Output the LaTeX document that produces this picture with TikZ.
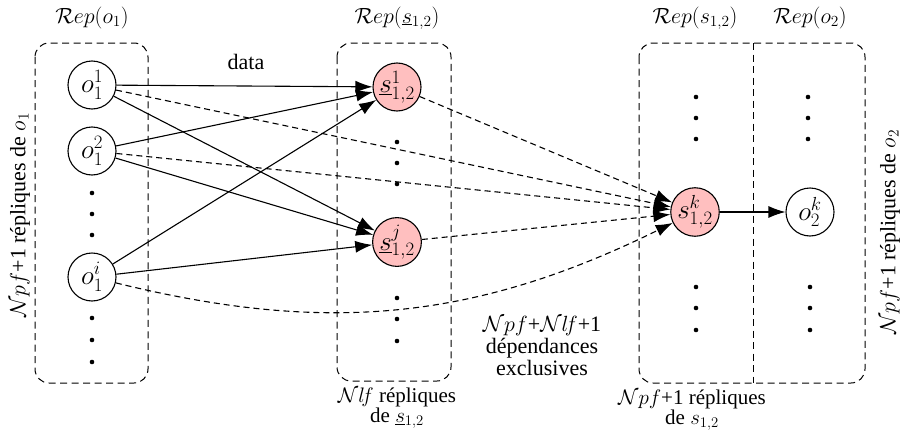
\RequirePackage{fix-cm}
\documentclass[tikz,border=0pt]{standalone}
\usepackage{fontspec}
\setmainfont{Liberation Serif}
\usetikzlibrary{arrows.meta}
\begin{document}
\begin{tikzpicture}[x=1pt,y=-1pt,
  font=\fontsize{22}{22}\selectfont,
  onode/.style={circle,draw,line width=1.1pt,minimum size=48pt,inner sep=0pt,font=\fontsize{27}{27}\selectfont},
  snode/.style={onode,fill=red!25},
  grp/.style={draw,dash pattern=on 7pt off 4.5pt,rounded corners=14pt,line width=1pt},
  arr/.style={-{Latex[length=17pt,width=12pt]},line width=1.1pt},
  darr/.style={arr,dash pattern=on 6pt off 4pt},
  lbl/.style={align=center,inner sep=0pt}]
\useasboundingbox (0,0) rectangle (902,439);
% groups
\draw[grp] (35,43) rectangle (148,383);
\draw[grp] (337,43) rectangle (451,381);
\draw[grp] (639,43) rectangle (865,383);
\draw[dash pattern=on 7pt off 4.5pt,line width=1pt] (753,43) -- (753,383);
% titles
\node[lbl] (t1) at (92,18) {$\mathcal{R}ep(o_1)$};
\node[lbl] (t2) at (397,18) {$\mathcal{R}ep(\underline{s}_{1,2})$};
\node[lbl] (t3) at (695,18) {$\mathcal{R}ep(s_{1,2})$};
\node[lbl] (t4) at (810,18) {$\mathcal{R}ep(o_2)$};
% nodes
\node[onode] (o11) at (92,85) {$o_1^1$};
\node[onode] (o12) at (92,151) {$o_1^2$};
\node[onode] (o1i) at (92,277) {$o_1^i$};
\node[snode] (s1) at (397,87) {$\underline{s}^1_{1,2}$};
\node[snode] (sj) at (397,242) {$\underline{s}^j_{1,2}$};
\node[snode] (sk) at (695,212) {$s^k_{1,2}$};
\node[onode] (o2k) at (810,212) {$o_2^k$};
% dots
\foreach \x/\y in {92/193,92/214,92/235,92/318,92/340,92/362,
                   397/142,397/163,397/184,397/298,397/319,397/341,
                   696/97,696/118,696/139,696/287,696/308,696/330,
                   808/97,808/118,808/139,810/287,810/308,810/330}
  \fill (\x,\y) circle (2.3pt);
% solid edges
\draw[arr] (o11) -- (s1);
\draw[arr] (o11) -- (sj);
\draw[arr] (o12) -- (s1);
\draw[arr] (o12) -- (sj);
\draw[arr] (o1i) -- (s1);
\draw[arr] (o1i) -- (sj);
\draw[arr] (sk) -- (o2k);
% dashed edges
\draw[darr] (o11) -- (sk);
\draw[darr] (o12) -- (sk);
\draw[darr] (s1) -- (sk);
\draw[darr] (sj) -- (sk);
\draw[darr] (o1i) to[bend right=20] (sk);
% labels
\node[lbl] (data) at (246,62) {data};
\node[lbl,rotate=90] (l1) at (20,215) {$\mathcal{N}pf$+1 répliques de $o_1$};
\node[lbl,rotate=90] (l2) at (890,232) {$\mathcal{N}pf$+1 répliques de $o_2$};
\node[lbl,font=\fontsize{21}{19}\selectfont] (b2) at (397,408) {$\mathcal{N}l\!f$ répliques\\de $\underline{s}_{1,2}$};
\node[lbl,font=\fontsize{21}{19}\selectfont] (b3) at (692,410) {$\mathcal{N}pf$+1 répliques\\de $s_{1,2}$};
\node[lbl] (mid) at (542,346) {$\mathcal{N}pf$+$\mathcal{N}l\!f$+1\\dépendances\\exclusives};
\end{tikzpicture}
\end{document}
